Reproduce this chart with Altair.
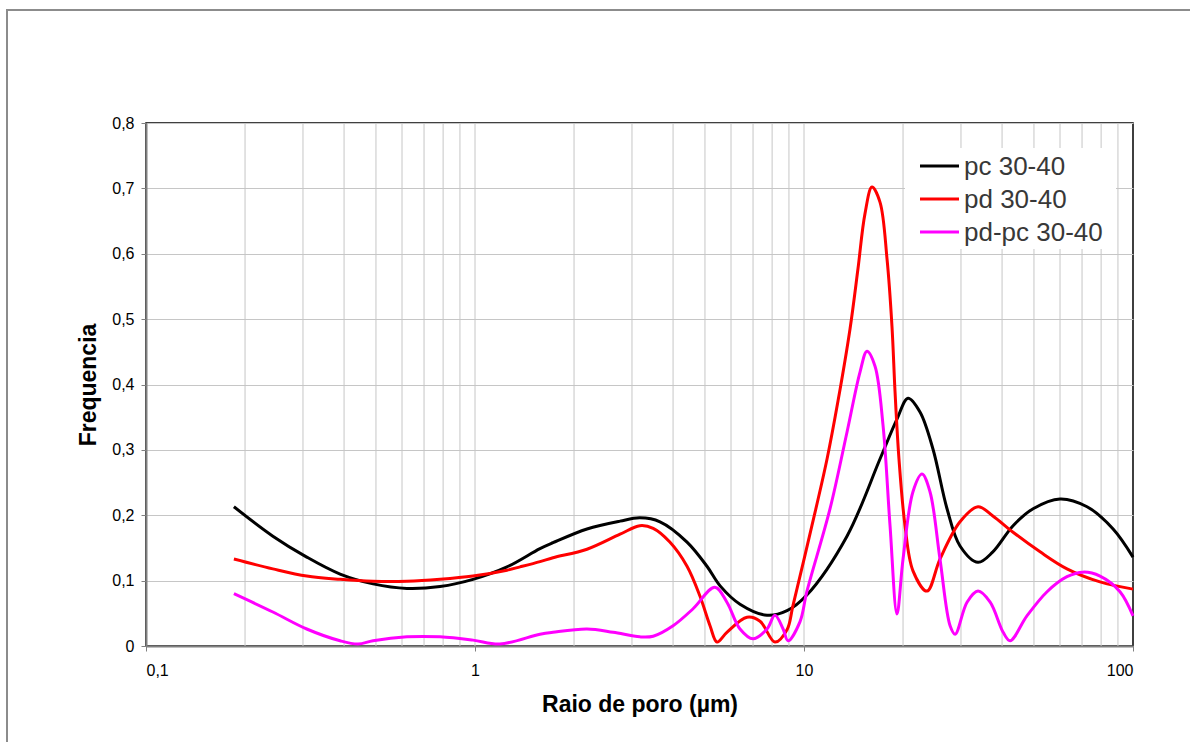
import altair as alt
import pandas as pd

FONT = "Liberation Sans"

SERIES = ["pc 30-40", "pd 30-40", "pd-pc 30-40"]
COLORS = ["#000000", "#ff0000", "#ff00ff"]

# pore radius (µm) and frequency for each curve
PC_R = [0.185, 0.243, 0.308, 0.389, 0.490, 0.621, 0.783, 0.986, 1.251, 1.576,
        1.726, 2.19, 2.76, 3.17, 3.65, 4.41, 5.07, 5.56, 6.39, 7.72,
        8.88, 10.2, 13.51, 17.02, 19.17, 20.71, 22.52, 24.67,
        27.21, 29.8, 33.8, 37.5, 43.2, 49.7, 60.0, 72.5, 87.0, 100]
PC_F = [0.213, 0.168, 0.136, 0.110, 0.095, 0.088, 0.091, 0.102, 0.121, 0.149,
        0.158, 0.179, 0.191, 0.196, 0.190, 0.159, 0.122, 0.092, 0.064, 0.047,
        0.054, 0.078, 0.168, 0.286, 0.347, 0.379, 0.358, 0.301,
        0.210, 0.153, 0.128, 0.144, 0.184, 0.210, 0.225, 0.213, 0.179, 0.136]

PD_R = [0.185, 0.243, 0.308, 0.389, 0.490, 0.621, 0.783, 0.986, 1.251, 1.371,
        1.576, 1.726, 2.19, 2.76, 3.17, 3.48, 3.91, 4.41, 4.83, 5.18,
        5.44, 5.83, 6.71, 7.35, 8.16, 8.88, 9.26, 10.57, 11.75, 12.69,
        13.80, 14.59, 15.32, 16.09, 17.02, 17.88, 18.51, 18.91, 19.44, 20.28,
        21.44, 23.65, 25.9, 29.8, 33.8, 37.5, 43.2, 52.2, 63.0, 79.4,
        100]
PD_F = [0.133, 0.118, 0.107, 0.102, 0.099, 0.099, 0.102, 0.107, 0.116, 0.121,
        0.129, 0.135, 0.148, 0.171, 0.184, 0.180, 0.159, 0.122, 0.076, 0.031,
        0.006, 0.021, 0.044, 0.038, 0.006, 0.025, 0.062, 0.184, 0.286, 0.375,
        0.485, 0.577, 0.661, 0.702, 0.679, 0.592, 0.489, 0.389, 0.286, 0.184,
        0.115, 0.084, 0.133, 0.190, 0.213, 0.199, 0.174, 0.144, 0.118, 0.098,
        0.087]

DIFF_R = [0.185, 0.243, 0.308, 0.389, 0.441, 0.490, 0.621, 0.783, 0.986, 1.19,
          1.576, 1.726, 2.19, 2.63, 3.17, 3.48, 4.00, 4.60, 5.36, 5.83,
          6.39, 7.00, 7.72, 8.16, 8.64, 8.94, 9.72, 10.2, 12.0, 13.51,
          14.8, 15.54, 16.44, 17.39, 18.26, 19.17, 20.0, 21.44, 22.84, 24.15,
          25.9, 27.8, 28.8, 31.3, 33.8, 36.8, 40.3, 42.3, 47.6, 54.8,
          63.0, 70.5, 79.4, 91.3, 100]
DIFF_F = [0.080, 0.052, 0.026, 0.008, 0.003, 0.008, 0.014, 0.014, 0.009, 0.003,
          0.018, 0.021, 0.026, 0.021, 0.014, 0.015, 0.031, 0.057, 0.090, 0.067,
          0.026, 0.011, 0.026, 0.047, 0.026, 0.008, 0.037, 0.083, 0.210, 0.327,
          0.419, 0.451, 0.428, 0.337, 0.184, 0.049, 0.133, 0.236, 0.263, 0.236,
          0.133, 0.031, 0.018, 0.067, 0.084, 0.067, 0.021, 0.008, 0.046, 0.083,
          0.106, 0.113, 0.107, 0.083, 0.046]

X_TICKS = [0.1, 1, 10, 100]
X_GRID = [0.2, 0.3, 0.4, 0.5, 0.6, 0.7, 0.8, 0.9, 1,
          2, 3, 4, 5, 6, 7, 8, 9, 10,
          20, 30, 40, 50, 60, 70, 80, 90]
Y_TICKS = [0, 0.1, 0.2, 0.3, 0.4, 0.5, 0.6, 0.7, 0.8]

frames = [pd.DataFrame({"raio": r, "freq": f, "serie": s})
          for s, r, f in zip(SERIES, [PC_R, PD_R, DIFF_R], [PC_F, PD_F, DIFF_F])]
df = pd.concat(frames, ignore_index=True)

# layout (pixels)
LEFT, TOP, W, H = 146, 123, 987, 523
TOTAL_W, TOTAL_H = 1190, 742
GRID_COLOR = "#c6c6c6"
AXIS_COLOR = "#808080"

x_scale = alt.Scale(type="log", domain=[0.1, 100], nice=False)
y_scale = alt.Scale(domain=[0, 0.8], nice=False)

x_axis = alt.Axis(
    values=X_TICKS, grid=False, tickSize=5, labelPadding=11, titlePadding=15,
    labelExpr="replace(format(datum.value, '~g'), '.', ',')",
)
y_axis = alt.Axis(
    values=Y_TICKS, grid=True, gridColor=GRID_COLOR, tickSize=5, labelPadding=7,
    titlePadding=11,
    labelExpr="datum.value == 0 ? '0' : replace(format(datum.value, '.1f'), '.', ',')",
)

X_TITLE = "Raio de poro (µm)"

# outer chart frame
frame = alt.Chart(alt.Data(values=[{}])).mark_rect(
    fillOpacity=0, stroke="#8c8c8c", strokeWidth=2
).encode(
    x=alt.value(7 - LEFT), y=alt.value(10 - TOP),
    x2=alt.value(TOTAL_W + 20 - LEFT), y2=alt.value(TOTAL_H + 20 - TOP),
)

# vertical log grid
vgrid = alt.Chart(pd.DataFrame({"g": X_GRID})).mark_rule(
    color=GRID_COLOR, strokeWidth=1
).encode(x=alt.X("g:Q", scale=x_scale, axis=x_axis, title=X_TITLE))

lines = alt.Chart(df).mark_line(strokeWidth=3, interpolate="catmull-rom").encode(
    x=alt.X("raio:Q", scale=x_scale, axis=x_axis, title=X_TITLE),
    y=alt.Y("freq:Q", scale=y_scale, axis=y_axis, title="Frequencia"),
    color=alt.Color("serie:N", scale=alt.Scale(domain=SERIES, range=COLORS), legend=None),
)

# legend box
LEG_X0, LEG_X1, LEG_Y0, LEG_Y1 = 905 - LEFT, 1116 - LEFT, 148 - TOP, 249 - TOP
ROW0, ROW_STEP = 166 - TOP, 33
SYM_X0, SYM_X1, TXT_X = 920 - LEFT, 959 - LEFT, 964 - LEFT

legend_layers = [
    alt.Chart(alt.Data(values=[{}])).mark_rect(fill="white").encode(
        x=alt.value(LEG_X0), x2=alt.value(LEG_X1),
        y=alt.value(LEG_Y0), y2=alt.value(LEG_Y1),
    )
]
for i, (name, col) in enumerate(zip(SERIES, COLORS)):
    yy = ROW0 + i * ROW_STEP
    legend_layers.append(
        alt.Chart(alt.Data(values=[{}])).mark_rule(color=col, strokeWidth=3).encode(
            x=alt.value(SYM_X0), x2=alt.value(SYM_X1), y=alt.value(yy)
        )
    )
    legend_layers.append(
        alt.Chart(pd.DataFrame({"label": [name]})).mark_text(
            align="left", baseline="middle", fontSize=26, font=FONT, color="#383838"
        ).encode(x=alt.value(TXT_X), y=alt.value(yy + 1), text="label:N")
    )

chart = (
    alt.layer(frame, vgrid, lines, *legend_layers)
    .properties(
        width=W, height=H,
        padding={"left": LEFT, "top": TOP,
                 "right": TOTAL_W - LEFT - W, "bottom": TOTAL_H - TOP - H},
        autosize=alt.AutoSizeParams(type="none"),
        background="white",
    )
    .configure_view(stroke="#000000", strokeWidth=1.5)
    .configure_axis(
        domainColor=AXIS_COLOR, domainWidth=2, tickColor=AXIS_COLOR, tickWidth=1,
        labelFont=FONT, labelFontSize=16, labelColor="#000000",
        titleFont=FONT, titleFontSize=23, titleFontWeight="bold", titleColor="#000000",
    )
)

chart.save("out.html", embed_options={"renderer": "svg", "actions": False})
